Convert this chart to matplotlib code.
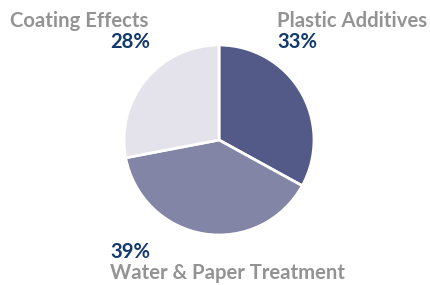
import matplotlib
matplotlib.use("Agg")
from matplotlib import pyplot as plt

labels = ["Plastic Additives", "Water & Paper Treatment", "Coating Effects"]
shares = [33, 39, 28]
colors = ["#535a87", "#8285a5", "#e4e3ec"]

fig = plt.figure(figsize=(4.3, 2.85), dpi=100)
ax = fig.add_axes([0, 0, 1, 1])
ax.set_xlim(0, 430)
ax.set_ylim(0, 285)
ax.axis("off")

ax.pie(shares, colors=colors, startangle=90, counterclock=False,
       center=(219, 145), radius=95,
       wedgeprops=dict(edgecolor="white", linewidth=2))
ax.set_xlim(0, 430)
ax.set_ylim(0, 285)
ax.set_aspect("equal")

gray = "#939393"
navy = "#123a6e"
fnt = dict(family="Lato", fontweight="bold", fontsize=14.6)

# label positions (left x, baseline y from top) per slice
ax.text(10, 285 - 27, labels[2], color=gray, ha="left", va="baseline", **fnt)
ax.text(150, 285 - 48, "%d%%" % shares[2], color=navy, ha="right", va="baseline", **fnt)

ax.text(277, 285 - 27, labels[0], color=gray, ha="left", va="baseline", **fnt)
ax.text(277, 285 - 48, "%d%%" % shares[0], color=navy, ha="left", va="baseline", **fnt)

ax.text(110, 285 - 258, "%d%%" % shares[1], color=navy, ha="left", va="baseline", **fnt)
ax.text(110, 285 - 279, labels[1], color=gray, ha="left", va="baseline", **fnt)

fig.savefig("out.png", dpi=100)
